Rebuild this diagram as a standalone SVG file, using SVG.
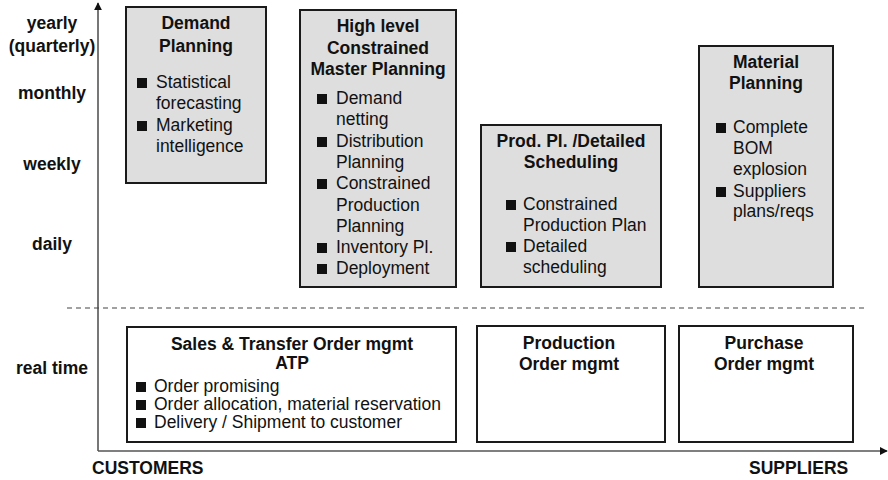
<svg xmlns="http://www.w3.org/2000/svg" width="888" height="480" viewBox="0 0 888 480">
<style>
text{font-family:"Liberation Sans",Arial,sans-serif;font-size:17.5px;fill:#111}
.b{font-weight:bold}
.c{text-anchor:middle}
.plan{fill:#dedede;stroke:#1a1a1a;stroke-width:2}
.exec{fill:#fff;stroke:#1a1a1a;stroke-width:2}
.axis{stroke:#555;stroke-width:1.6;fill:none}
.bul{fill:#111}
</style>
<defs>
<marker id="arr" viewBox="0 0 10 10" refX="9" refY="5" markerWidth="8" markerHeight="8" markerUnits="userSpaceOnUse" orient="auto">
<path d="M0,0 L10,5 L0,10 z" fill="#111"/>
</marker>
</defs>
<g id="axes" class="connectors">
<line class="axis" x1="98" y1="451" x2="98" y2="3" marker-end="url(#arr)"/>
<line class="axis" x1="98" y1="451" x2="887" y2="451" marker-end="url(#arr)"/>
<line x1="67" y1="308" x2="866" y2="308" stroke="#444" stroke-width="1.2" stroke-dasharray="5,4"/>
</g>
<g id="labels">
<text class="b c" x="52" y="29">yearly</text>
<text class="b c" x="52" y="52">(quarterly)</text>
<text class="b c" x="52" y="99">monthly</text>
<text class="b c" x="52" y="170">weekly</text>
<text class="b c" x="52" y="250">daily</text>
<text class="b c" x="52" y="374">real time</text>
<text class="b" x="92" y="474">CUSTOMERS</text>
<text class="b" x="749" y="474">SUPPLIERS</text>
</g>
<g id="demand-planning">
<rect class="plan" x="126" y="7" width="140" height="176"/>
<text class="b c" x="196" y="29">Demand</text>
<text class="b c" x="196" y="52">Planning</text>
<rect class="bul" x="137" y="78" width="10" height="10"/>
<text x="156" y="88">Statistical</text>
<text x="156" y="109">forecasting</text>
<rect class="bul" x="137" y="121" width="10" height="10"/>
<text x="156" y="131">Marketing</text>
<text x="156" y="152">intelligence</text>
</g>
<g id="master-planning">
<rect class="plan" x="300" y="10" width="156" height="277"/>
<text class="b c" x="378" y="32">High level</text>
<text class="b c" x="378" y="54">Constrained</text>
<text class="b c" x="378" y="75">Master Planning</text>
<rect class="bul" x="317" y="94" width="10" height="10"/>
<text x="336" y="104">Demand</text>
<text x="336" y="125">netting</text>
<rect class="bul" x="317" y="137" width="10" height="10"/>
<text x="336" y="147">Distribution</text>
<text x="336" y="168">Planning</text>
<rect class="bul" x="317" y="179" width="10" height="10"/>
<text x="336" y="189">Constrained</text>
<text x="336" y="211">Production</text>
<text x="336" y="232">Planning</text>
<rect class="bul" x="317" y="243" width="10" height="10"/>
<text x="336" y="253">Inventory Pl.</text>
<rect class="bul" x="317" y="264" width="10" height="10"/>
<text x="336" y="274">Deployment</text>
</g>
<g id="detailed-scheduling">
<rect class="plan" x="481" y="125" width="180" height="162"/>
<text class="b c" x="571" y="147">Prod. Pl. /Detailed</text>
<text class="b c" x="571" y="168">Scheduling</text>
<rect class="bul" x="506" y="200" width="10" height="10"/>
<text x="523" y="210">Constrained</text>
<text x="523" y="231">Production Plan</text>
<rect class="bul" x="506" y="242" width="10" height="10"/>
<text x="523" y="252">Detailed</text>
<text x="523" y="273">scheduling</text>
</g>
<g id="material-planning">
<rect class="plan" x="699" y="46" width="134" height="241"/>
<text class="b c" x="766" y="68">Material</text>
<text class="b c" x="766" y="89">Planning</text>
<rect class="bul" x="716" y="123" width="10" height="10"/>
<text x="733" y="133">Complete</text>
<text x="733" y="154">BOM</text>
<text x="733" y="175">explosion</text>
<rect class="bul" x="716" y="187" width="10" height="10"/>
<text x="733" y="197">Suppliers</text>
<text x="733" y="217">plans/reqs</text>
</g>
<g id="sales-order">
<rect class="exec" x="127" y="327" width="329" height="115"/>
<text class="b c" x="292" y="350">Sales &amp; Transfer Order mgmt</text>
<text class="b c" x="292" y="369">ATP</text>
<rect class="bul" x="136" y="382" width="10" height="10"/>
<text x="154" y="392">Order promising</text>
<rect class="bul" x="136" y="400" width="10" height="10"/>
<text x="154" y="410">Order allocation, material reservation</text>
<rect class="bul" x="136" y="418" width="10" height="10"/>
<text x="154" y="428">Delivery / Shipment to customer</text>
</g>
<g id="production-order">
<rect class="exec" x="477" y="326" width="188" height="116"/>
<text class="b c" x="569" y="349">Production</text>
<text class="b c" x="569" y="370">Order mgmt</text>
</g>
<g id="purchase-order">
<rect class="exec" x="679" y="326" width="174" height="116"/>
<text class="b c" x="764" y="349">Purchase</text>
<text class="b c" x="764" y="370">Order mgmt</text>
</g>
</svg>
